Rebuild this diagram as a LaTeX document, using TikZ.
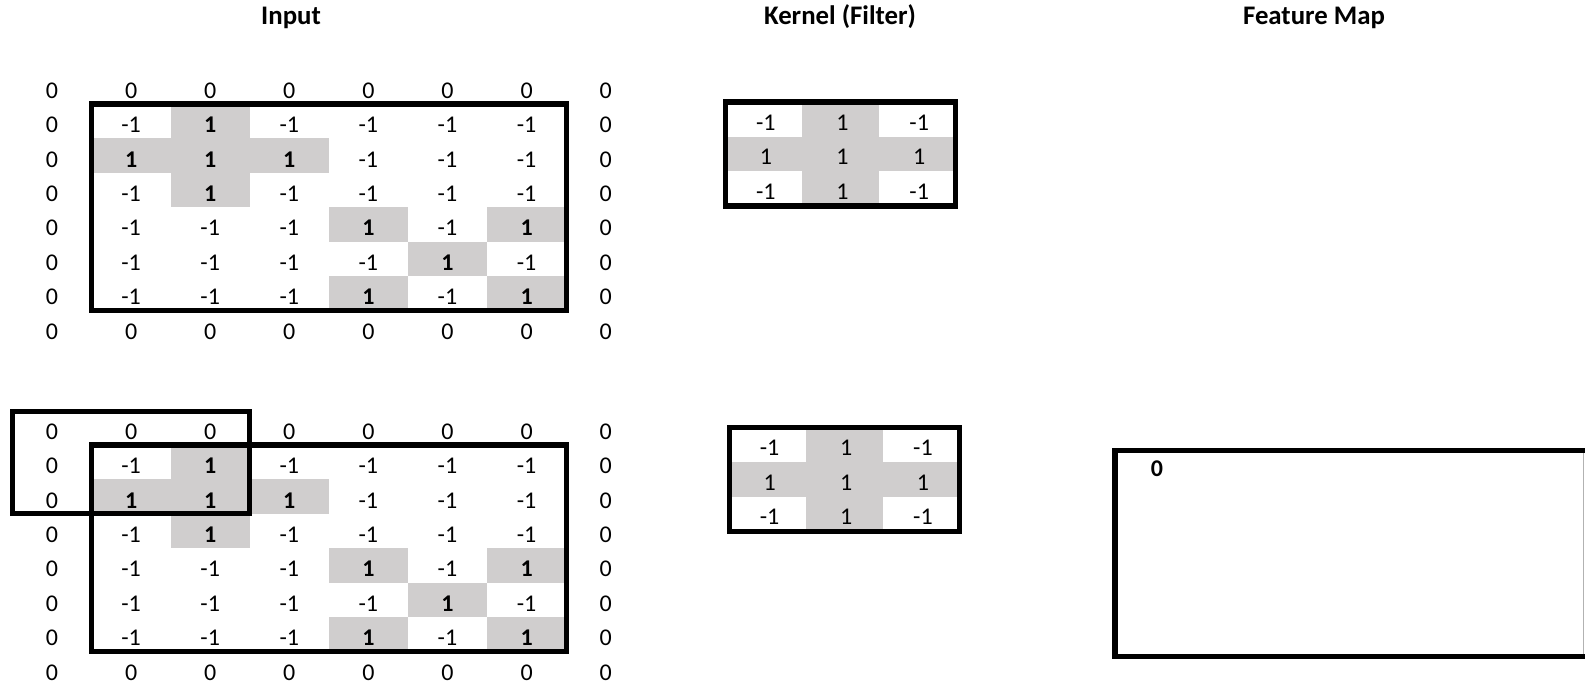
\documentclass[tikz,border=0pt]{standalone}
\usepackage{fontspec}
\setmainfont{Carlito}
\definecolor{cellgrey}{HTML}{D0CECE}
\tikzset{
  cell/.style={inner sep=0pt, font=\fontsize{12}{14}\selectfont},
  boldcell/.style={cell, font=\fontsize{12}{14}\selectfont\bfseries},
  header/.style={inner sep=0pt, anchor=base, font=\fontsize{13.4}{15}\selectfont\bfseries},
  frame/.style={draw=black, line width=2.6pt},
  greycell/.style={fill=cellgrey},
}
\newcommand{\cnninput}[2]{%
  % padding rows
  \foreach \c in {0,...,7} {
    \node[cell] (#2-0-\c) at ({52+79.1*\c},{#1}) {0};
    \node[cell] (#2-7-\c) at ({52+79.1*\c},{#1+34.4*7}) {0};
  }
  \foreach \r in {1,...,6} {
    \node[cell] (#2-\r-0) at (52,{#1+34.4*\r}) {0};
    \node[cell] (#2-\r-7) at ({52+79.1*7},{#1+34.4*\r}) {0};
  }
  \foreach \r/\vals in {1/{-1,1,-1,-1,-1,-1},2/{1,1,1,-1,-1,-1},3/{-1,1,-1,-1,-1,-1},4/{-1,-1,-1,1,-1,1},5/{-1,-1,-1,-1,1,-1},6/{-1,-1,-1,1,-1,1}} {
    \foreach \v [count=\c] in \vals {
      \ifnum\v=1
        \path[greycell] ({52+79.1*\c-39.55},{#1+34.4*\r-21}) rectangle ({52+79.1*\c+39.55},{#1+34.4*\r+13.4});
        \node[boldcell] (#2-\r-\c) at ({52+79.1*\c},{#1+34.4*\r}) {\v};
      \else
        \node[cell] (#2-\r-\c) at ({52+79.1*\c},{#1+34.4*\r}) {\v};
      \fi
    }
  }
  \draw[frame] ({52+79.1-39.55},{#1+34.4-21}) rectangle ({52+79.1*6+39.55},{#1+34.4*6+13.4});
}
\newcommand{\cnnkernel}[3]{% #1 x-left, #2 y-top, #3 name
  \path[greycell] ({#1+76.67},{#2}) rectangle ({#1+2*76.67},{#2+104});
  \path[greycell] ({#1},{#2+34.67}) rectangle ({#1+230},{#2+2*34.67});
  \foreach \r/\vals in {0/{-1,1,-1},1/{1,1,1},2/{-1,1,-1}} {
    \foreach \v [count=\c] in \vals {
      \node[cell] (#3-\r-\c) at ({#1+76.67*(\c-0.5)+2},{#2+34.67*(\r+0.5)+3}) {\v};
    }
  }
  \draw[frame] ({#1},{#2}) rectangle ({#1+230},{#2+104});
}
\begin{document}
\begin{tikzpicture}[x=0.5pt,y=-0.5pt]
  \useasboundingbox (0,0) rectangle (1585,685);
  \clip (0,0) rectangle (1585,685);
  \fill[white] (0,0) rectangle (1585,685);
  % headers
  \node[header] (hin) at (291,25) {Input};
  \node[header] (hk) at (840,25) {Kernel (Filter)};
  \node[header] (hf) at (1314,25) {Feature Map};
  % top row
  \cnninput{90.5}{a}
  \cnnkernel{725.5}{102}{ka}
  % bottom row
  \cnninput{431.5}{b}
  \draw[frame] (12.5,411.5) rectangle (249.8,{431.5+34.4*2+13.4});
  \cnnkernel{729.3}{427.5}{kb}
  % feature map
  \draw[gray!60, line width=0.5pt] (1583.5,452) -- (1583.5,654);
  \draw[frame] (1115,450.3) rectangle (1620,656.3);
  \node[boldcell] (fm) at (1157,469) {0};
\end{tikzpicture}
\end{document}
